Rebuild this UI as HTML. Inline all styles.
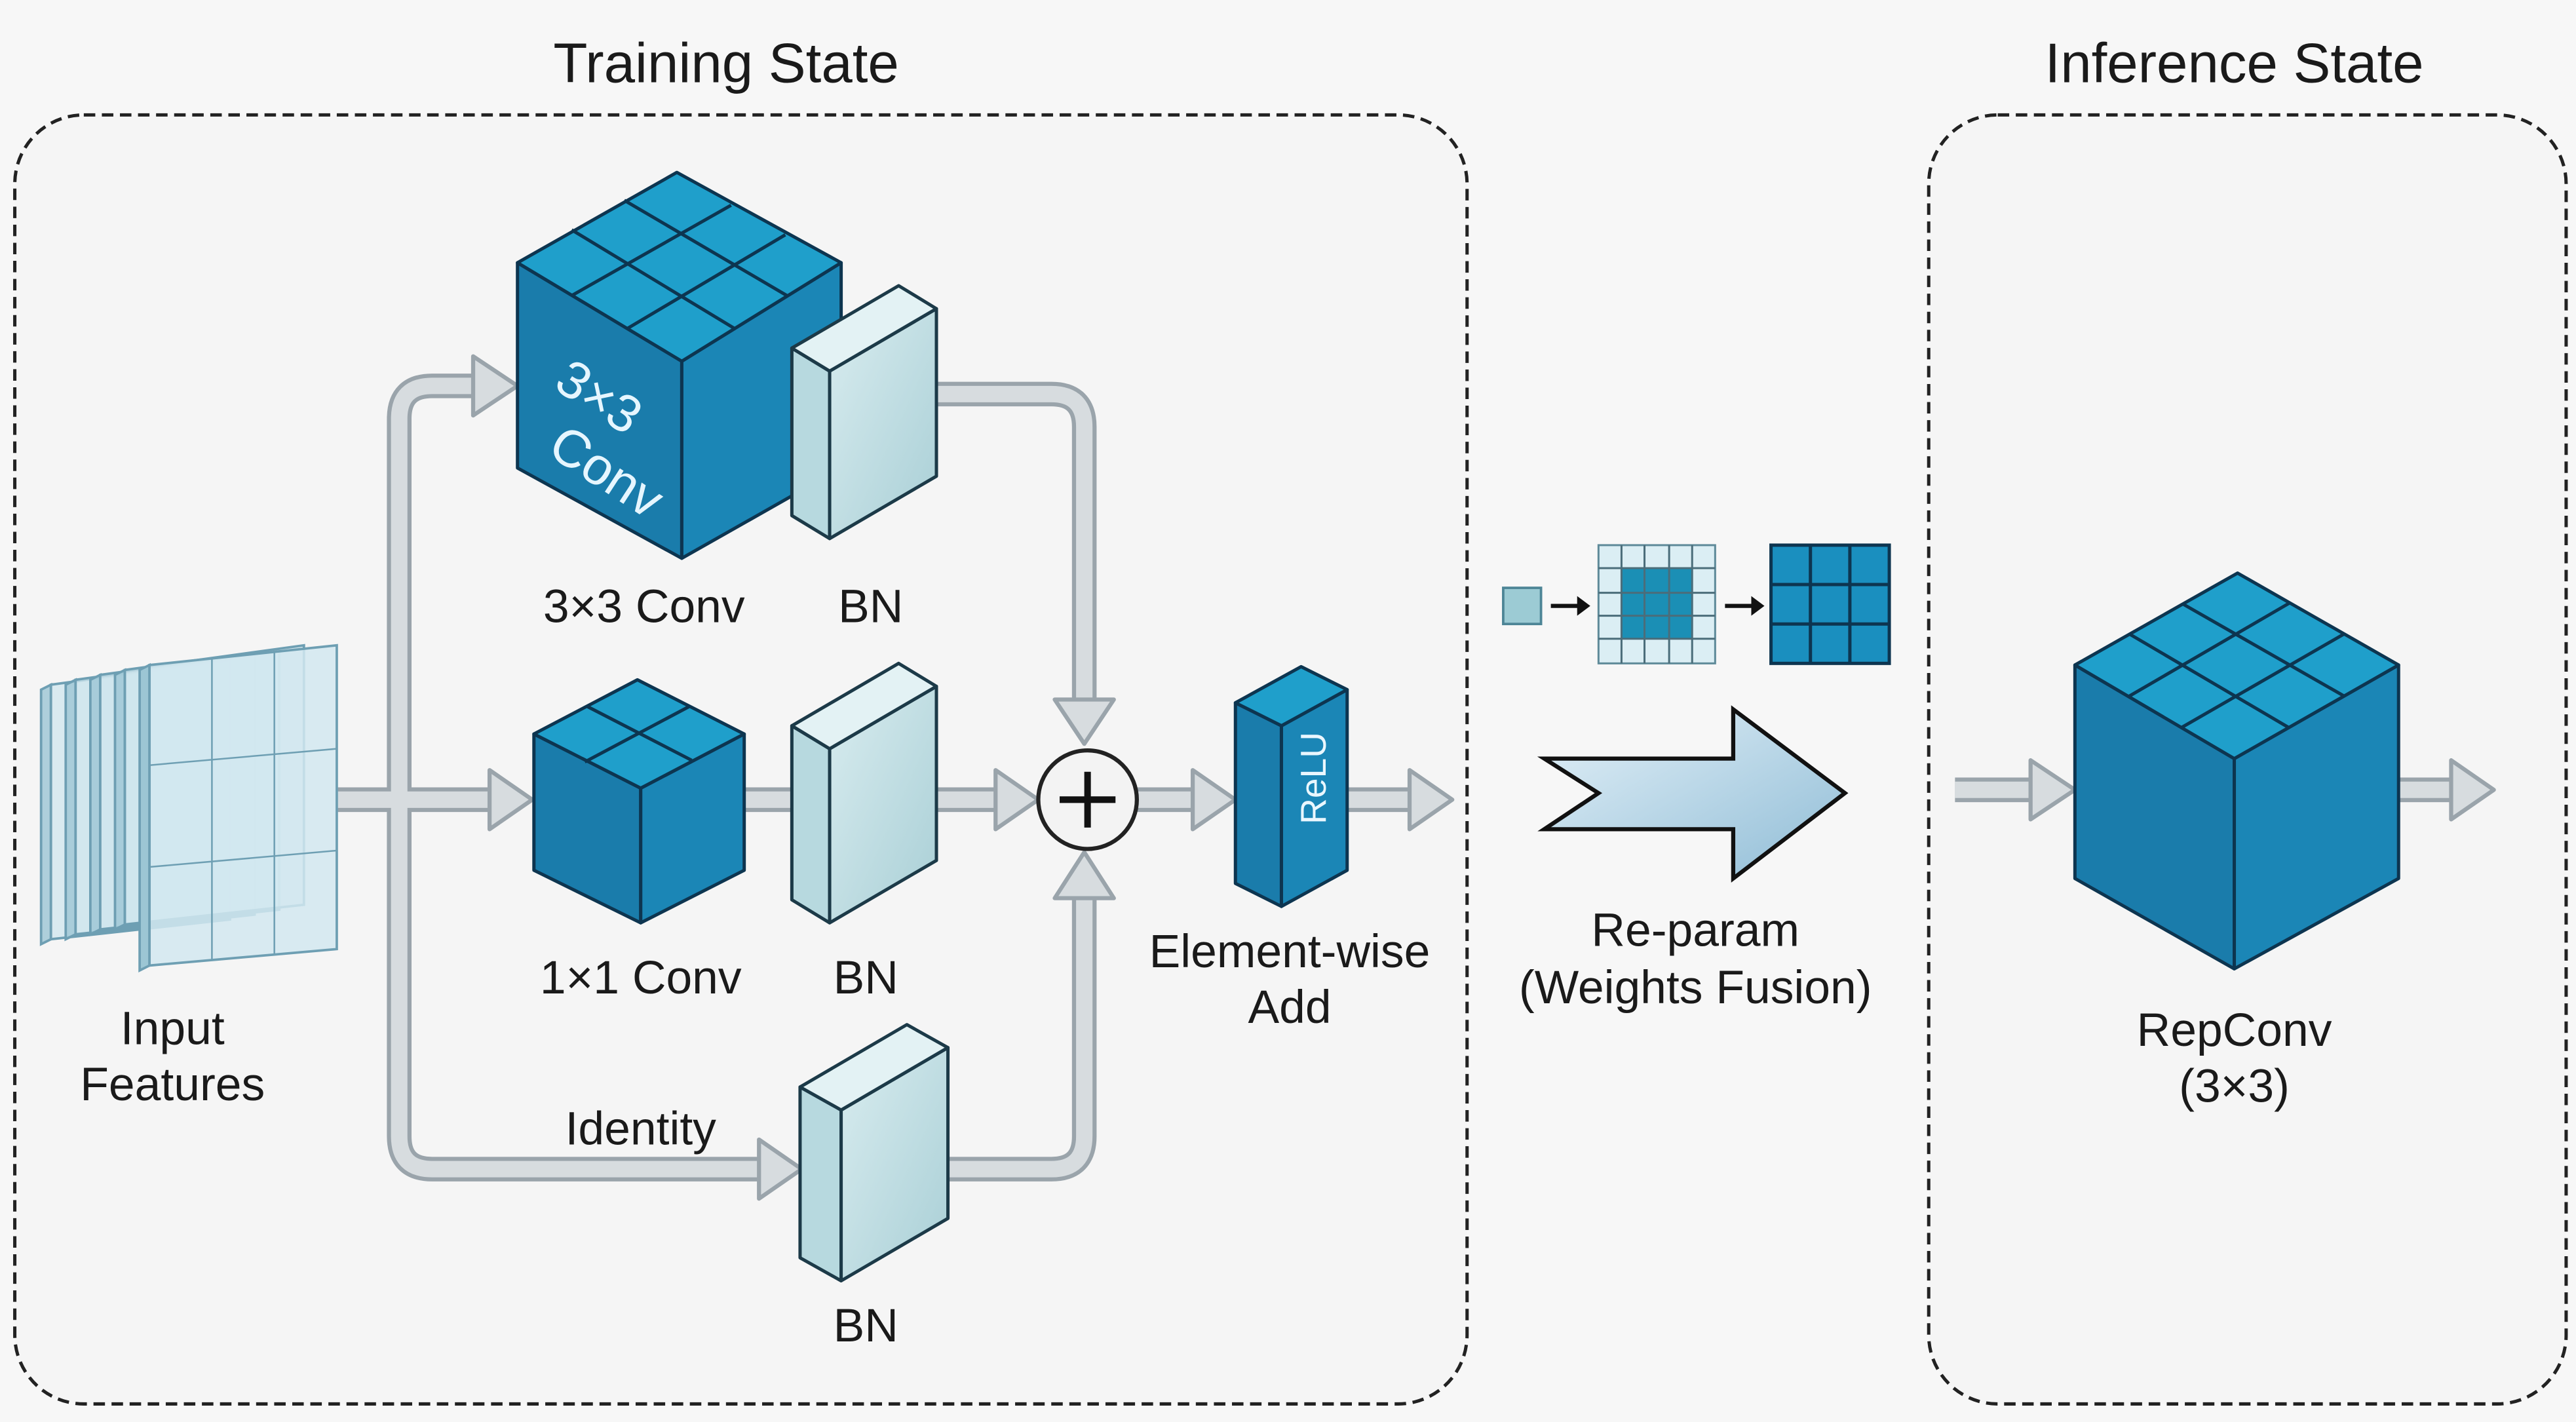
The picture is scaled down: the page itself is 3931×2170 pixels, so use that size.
<!DOCTYPE html>
<html><head><meta charset="utf-8"><style>
html,body{margin:0;padding:0;background:#f7f7f7;width:3931px;height:2170px;overflow:hidden}
svg{display:block}
text{font-family:"Liberation Sans",sans-serif;fill:#1a1a1a}
</style></head><body>
<svg width="3931" height="2170" viewBox="0 0 1568 866" preserveAspectRatio="none" xmlns="http://www.w3.org/2000/svg">
<defs>
<linearGradient id="chev" x1="0" y1="0" x2="1" y2="1"><stop offset="0" stop-color="#e4f1f8"/><stop offset="1" stop-color="#8fbcd6"/></linearGradient>
<linearGradient id="bn" x1="0" y1="0" x2="1" y2="1"><stop offset="0" stop-color="#d8ecef"/><stop offset="1" stop-color="#a9cfd6"/></linearGradient>
</defs>
<rect width="1568" height="866" fill="#f7f7f7"/>
<!-- frames -->
<rect x="9" y="70" width="884" height="785" rx="42" fill="#f5f5f5" stroke="#222" stroke-width="2" stroke-dasharray="7 4"/>
<rect x="1174" y="70" width="388" height="785" rx="42" fill="#f5f5f5" stroke="#222" stroke-width="2" stroke-dasharray="7 4"/>
<text x="442" y="50" font-size="34" text-anchor="middle">Training State</text>
<text x="1360" y="50" font-size="34" text-anchor="middle">Inference State</text>

<!-- connectors -->
<g fill="none" stroke-linejoin="round">
<g stroke="#9aa4ab" stroke-width="15">
<path d="M205,487 H300"/><path d="M243,487 V255 Q243,235 263,235 H292"/><path d="M243,487 V692 Q243,712 263,712 H465"/>
<path d="M560,240 H640 Q660,240 660,260 V428"/><path d="M565,712 H640 Q660,712 660,692 V545"/>
<path d="M450,487 H485"/><path d="M565,487 H608"/><path d="M690,487 H728"/><path d="M815,487 H860"/>
<path d="M1190,481 H1238"/><path d="M1458,481 H1494"/>
</g>
<g stroke="#d7dcdf" stroke-width="10">
<path d="M205,487 H300"/><path d="M243,487 V255 Q243,235 263,235 H292"/><path d="M243,487 V692 Q243,712 263,712 H465"/>
<path d="M560,240 H640 Q660,240 660,260 V428"/><path d="M565,712 H640 Q660,712 660,692 V545"/>
<path d="M450,487 H485"/><path d="M565,487 H608"/><path d="M690,487 H728"/><path d="M815,487 H860"/>
<path d="M1190,481 H1238"/><path d="M1458,481 H1494"/>
</g>
</g>
<g fill="#d7dcdf" stroke="#9aa4ab" stroke-width="2.5" stroke-linejoin="round">
<polygon points="298,469 324,487 298,505"/>
<polygon points="288,217 315,235 288,253"/>
<polygon points="462,694 488,712 462,730"/>
<polygon points="642,426 660,453 678,426"/>
<polygon points="642,547 660,519 678,547"/>
<polygon points="606,469 632,487 606,505"/>
<polygon points="726,469 752,487 726,505"/>
<polygon points="858,469 884,487 858,505"/>
<polygon points="1236,463 1263,481 1236,499"/>
<polygon points="1492,463 1518,481 1492,499"/>
</g>

<!-- input features -->
<g stroke="#6e9fb3" stroke-width="1.5">
<g id="pn">
<polygon points="25,420 31,417 31,572 25,575" fill="#9cc6d4" fill-opacity="0.8"/>
<polygon points="31,417 140,402 140,560 31,572" fill="#cfe6ee" fill-opacity="0.75"/>
</g>
<use href="#pn" transform="translate(15,-3)"/>
<use href="#pn" transform="translate(30,-6)"/>
<use href="#pn" transform="translate(45,-9)"/>
<g transform="translate(60,-12)">
<polygon points="25,420 31,417 31,600 25,603" fill="#9cc6d4"/>
<polygon points="31,417 145,405 145,590 31,600" fill="#d2e8f0" fill-opacity="0.85"/>
<path d="M31,478 L145,468 M31,540 L145,530 M69,413 V597 M107,409 V594" fill="none" stroke-width="1"/>
</g>
</g>
<text x="105" y="636" font-size="28.5" text-anchor="middle">Input</text>
<text x="105" y="670" font-size="28.5" text-anchor="middle">Features</text>

<!-- 3x3 conv cube -->
<g stroke="#0d3550" stroke-width="2" stroke-linejoin="round">
<polygon points="315,160 415,220 415,340 315,285" fill="#1a7cab"/>
<polygon points="415,220 512,160 512,285 415,340" fill="#1b86b6"/>
<polygon points="315,160 412,105 512,160 415,220" fill="#1f9fcb"/>
<path d="M348,140 L447,200 M380,122 L479,180 M348,180 L445,125 M382,200 L478,143" fill="none"/>
</g>
<text transform="translate(336,236) rotate(33)" font-size="32" style="fill:#e6f6ff">3×3</text>
<text transform="translate(332,276) rotate(33)" font-size="32" style="fill:#e6f6ff">Conv</text>
<!-- BN top -->
<g stroke="#1c3a48" stroke-width="2" stroke-linejoin="round">
<polygon points="482,212 505,226 505,328 482,314" fill="#b7d9df"/>
<polygon points="505,226 570,188 570,290 505,328" fill="url(#bn)"/>
<polygon points="482,212 547,174 570,188 505,226" fill="#e3f2f4"/>
</g>
<text x="392" y="379" font-size="28.5" text-anchor="middle">3×3 Conv</text>
<text x="530" y="379" font-size="28.5" text-anchor="middle">BN</text>

<!-- 1x1 cube -->
<g stroke="#0d3550" stroke-width="2" stroke-linejoin="round">
<polygon points="325,447 390,480 390,562 325,530" fill="#1a7cab"/>
<polygon points="390,480 453,447 453,530 390,562" fill="#1b86b6"/>
<polygon points="325,447 388,414 453,447 390,480" fill="#1f9fcb"/>
<path d="M357,430 L421,463 M356,464 L420,430" fill="none"/>
</g>
<!-- BN mid -->
<g stroke="#1c3a48" stroke-width="2" stroke-linejoin="round">
<polygon points="482,442 505,456 505,562 482,548" fill="#b7d9df"/>
<polygon points="505,456 570,418 570,524 505,562" fill="url(#bn)"/>
<polygon points="482,442 547,404 570,418 505,456" fill="#e3f2f4"/>
</g>
<text x="390" y="605" font-size="28.5" text-anchor="middle">1×1 Conv</text>
<text x="527" y="605" font-size="28.5" text-anchor="middle">BN</text>
<!-- BN bottom -->
<g stroke="#1c3a48" stroke-width="2" stroke-linejoin="round">
<polygon points="487,662 512,676 512,780 487,766" fill="#b7d9df"/>
<polygon points="512,676 577,638 577,742 512,780" fill="url(#bn)"/>
<polygon points="487,662 552,624 577,638 512,676" fill="#e3f2f4"/>
</g>
<text x="390" y="697" font-size="28.5" text-anchor="middle">Identity</text>
<text x="527" y="817" font-size="28.5" text-anchor="middle">BN</text>

<!-- add circle -->
<circle cx="662" cy="487" r="30" fill="#f3f3f3" stroke="#222" stroke-width="2.5"/>
<path d="M662,470 V504 M645,487 H679" stroke="#111" stroke-width="4"/>

<!-- ReLU -->
<g stroke="#0d3550" stroke-width="2" stroke-linejoin="round">
<polygon points="752,428 780,442 780,552 752,538" fill="#1a7cab"/>
<polygon points="780,442 820,420 820,530 780,552" fill="#1b86b6"/>
<polygon points="752,428 792,406 820,420 780,442" fill="#1f9fcb"/>
</g>
<text transform="translate(807,502) rotate(-90)" font-size="22" style="fill:#eaf7ff">ReLU</text>
<text x="785" y="589" font-size="28.5" text-anchor="middle">Element-wise</text>
<text x="785" y="623" font-size="28.5" text-anchor="middle">Add</text>

<!-- fusion icons -->
<rect x="915" y="358" width="23" height="22" fill="#9ccbd4" stroke="#4d8596" stroke-width="1.5"/>
<path d="M944,369 H962" stroke="#111" stroke-width="2.5"/><polygon points="960,363 968,369 960,375" fill="#111"/>
<rect x="973" y="332" width="71" height="72" fill="#dbeef4" stroke="#5e8a99" stroke-width="1.2"/>
<rect x="987" y="346" width="43" height="43" fill="#1b8fb5"/>
<path d="M987,332 V404 M1001,332 V404 M1016,332 V404 M1030,332 V404 M973,346 H1044 M973,361 H1044 M973,375 H1044 M973,389 H1044" stroke="#4b6d7a" stroke-width="1.2"/>
<path d="M1050,369 H1068" stroke="#111" stroke-width="2.5"/><polygon points="1066,363 1074,369 1066,375" fill="#111"/>
<rect x="1078" y="332" width="72" height="72" fill="#1a8fbf" stroke="#0d3550" stroke-width="2"/>
<path d="M1102,332 V404 M1126,332 V404 M1078,356 H1150 M1078,380 H1150" stroke="#0d3550" stroke-width="2"/>
<!-- chevron -->
<polygon points="940,462 1055,462 1055,432 1123,483 1055,535 1055,505 940,505 973,483" fill="url(#chev)" stroke="#111" stroke-width="2.5" stroke-linejoin="miter"/>
<text x="1032" y="576" font-size="28.5" text-anchor="middle">Re-param</text>
<text x="1032" y="611" font-size="28.5" text-anchor="middle">(Weights Fusion)</text>

<!-- RepConv cube -->
<g stroke="#0d3550" stroke-width="2" stroke-linejoin="round">
<polygon points="1263,405 1360,462 1360,590 1263,535" fill="#1a7cab"/>
<polygon points="1360,462 1460,405 1460,535 1360,590" fill="#1b86b6"/>
<polygon points="1263,405 1362,349 1460,405 1360,462" fill="#1f9fcb"/>
<path d="M1296,386 L1393,443 M1329,368 L1427,424 M1296,424 L1394,367 M1328,443 L1427,386" fill="none"/>
</g>
<text x="1360" y="637" font-size="28.5" text-anchor="middle">RepConv</text>
<text x="1360" y="671" font-size="28.5" text-anchor="middle">(3×3)</text>
</svg>
</body></html>
